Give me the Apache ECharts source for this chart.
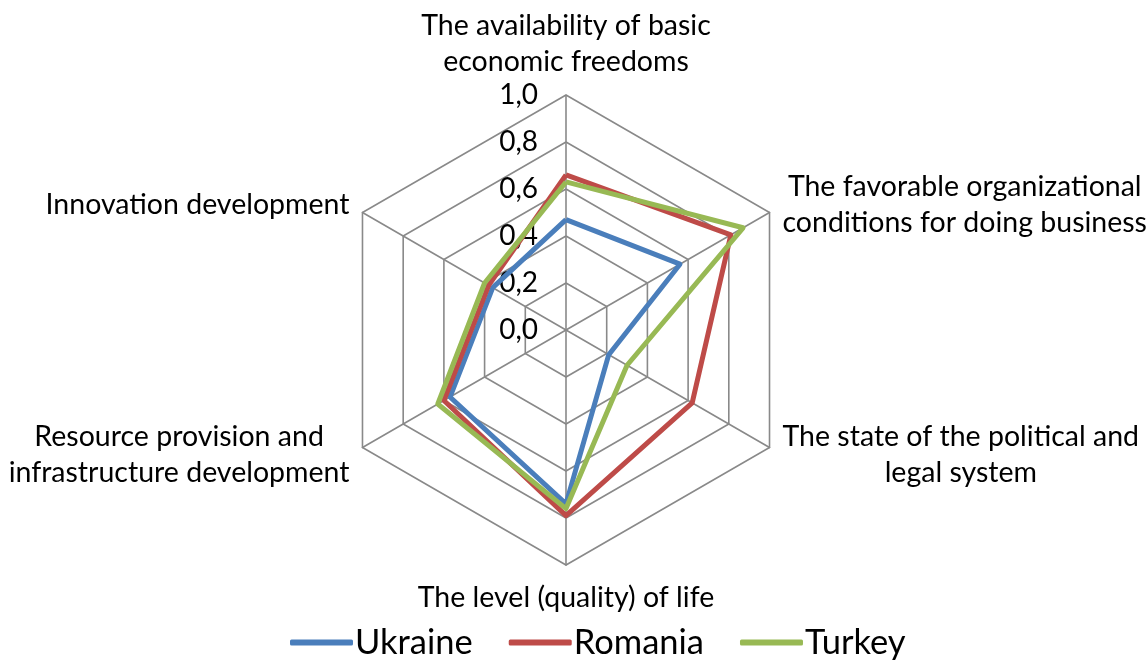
<!DOCTYPE html>
<html>
<head>
<meta charset="utf-8">
<script src="https://cdn.jsdelivr.net/npm/echarts@6/dist/echarts.min.js"></script>
<style>
  html, body { margin: 0; padding: 0; background: #fff; }
  #chart { width: 1147px; height: 661px; }
</style>
</head>
<body>
<div id="chart"></div>
<script>
// categories, clockwise from the top
const categories = [
  'The availability of basic\neconomic freedoms',
  'The favorable organizational\nconditions for doing business',
  'The state of the political and\nlegal system',
  'The level (quality) of life',
  'Resource provision and\ninfrastructure development',
  'Innovation development'
];
const ukraine = [0.47, 0.56, 0.21, 0.74, 0.57, 0.36];
const romania = [0.66, 0.81, 0.62, 0.79, 0.60, 0.38];
const turkey  = [0.63, 0.87, 0.30, 0.76, 0.63, 0.40];
const seriesNames = ['Ukraine', 'Romania', 'Turkey'];
const colors = ['#4a7ebb', '#be4b48', '#98b954'];

const font = 'Lato, "Open Sans", sans-serif';

// echarts lays indicators out counter-clockwise, so flip the order after the first
const order = [0, 5, 4, 3, 2, 1];
const reorder = arr => order.map(i => arr[i]);

const indicators = reorder(categories).map((name, i) => {
  const ind = { name: name, min: 0, max: 1 };
  if (i === 0) {
    ind.axisLabel = {
      show: true,
      formatter: v => v.toFixed(1).replace('.', ','),
      color: '#000',
      fontSize: 28,
      fontFamily: font,
      margin: 28
    };
  }
  return ind;
});

const chart = echarts.init(document.getElementById('chart'));
chart.setOption({
  animation: false,
  color: colors,
  legend: {
    data: seriesNames,
    top: 620,
    left: 285,
    icon: 'roundRect',
    itemWidth: 63,
    itemHeight: 6,
    itemGap: 36,
    textStyle: { color: '#000', fontSize: 34.5, fontFamily: font, padding: [0, 0, 0, -3] }
  },
  radar: {
    center: [566, 330],
    radius: 235,
    startAngle: 90,
    splitNumber: 5,
    shape: 'polygon',
    indicator: indicators,
    axisName: {
      color: '#000',
      fontSize: 28.5,
      fontFamily: font,
      formatter: name => name.split('\n').map(s => '{c|' + s + '}').join('\n'),
      rich: {
        c: { align: 'center', color: '#000', fontSize: 28.5, fontFamily: font, lineHeight: 36 }
      }
    },
    nameGap: 15,
    axisLabel: { show: false },
    axisTick: { show: false },
    axisLine: { lineStyle: { color: '#898989', width: 1.6 } },
    splitLine: { lineStyle: { color: '#898989', width: 1.6 } },
    splitArea: { show: false }
  },
  series: [{
    type: 'radar',
    symbol: 'none',
    lineStyle: { width: 5 },
    data: [
      { name: seriesNames[0], value: reorder(ukraine), lineStyle: { color: colors[0], width: 5 } },
      { name: seriesNames[1], value: reorder(romania), lineStyle: { color: colors[1], width: 5 } },
      { name: seriesNames[2], value: reorder(turkey), lineStyle: { color: colors[2], width: 5 } }
    ]
  }]
});
</script>
</body>
</html>
